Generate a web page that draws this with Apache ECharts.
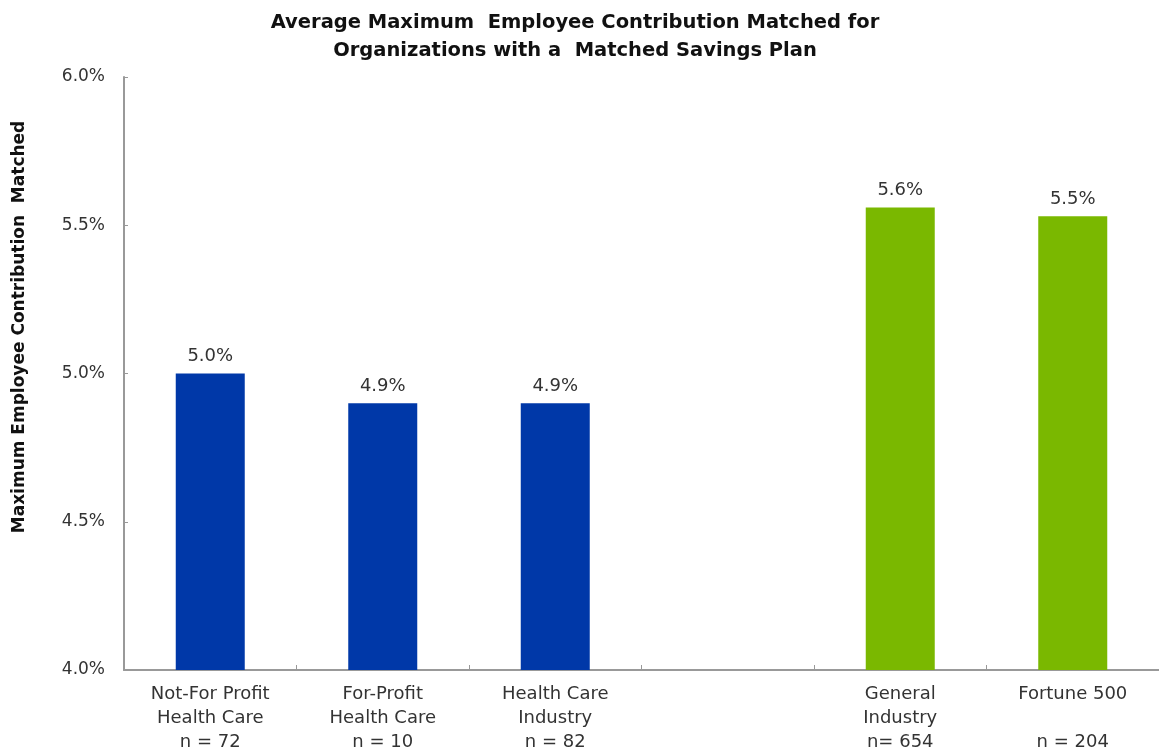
<!DOCTYPE html>
<html>
<head>
<meta charset="utf-8">
<script src="https://cdn.jsdelivr.net/npm/echarts@6/dist/echarts.min.js"></script>
<style>
  html, body { margin: 0; padding: 0; background: #fff; }
  #chart { width: 1159px; height: 754px; }
</style>
</head>
<body>
<div id="chart"></div>
<script>
// groups: health care (blue), a blank gap, then comparison groups (green)
const categories = [
  'Not-For Profit\nHealth Care\nn = 72',
  'For-Profit\nHealth Care\nn = 10',
  'Health Care\nIndustry\nn = 82',
  '',
  'General\nIndustry\nn= 654',
  'Fortune 500\n\nn = 204'
];
const values = [5.0, 4.9, 4.9, null, 5.56, 5.53];
const groups = ['hc', 'hc', 'hc', null, 'gen', 'gen'];
const colors = { hc: '#0038A8', gen: '#7AB800' };

const font = '"DejaVu Sans", "Liberation Sans", Arial, sans-serif';

const chart = echarts.init(document.getElementById('chart'));

const option = {
  animation: false,
  textStyle: { fontFamily: font },
  title: {
    text: 'Average Maximum  Employee Contribution Matched for\nOrganizations with a  Matched Savings Plan',
    left: 570,
    textAlign: 'center',
    top: 4,
    textStyle: { fontSize: 19.5, fontWeight: 'bold', color: '#111', lineHeight: 28, fontFamily: font }
  },
  grid: { left: 124, right: -4, top: 77, bottom: 84, containLabel: false },
  xAxis: {
    type: 'category',
    data: categories,
    axisLine: { lineStyle: { color: '#999', width: 2 } },
    axisTick: { show: true, inside: true, length: 5, lineStyle: { color: '#999' } },
    axisLabel: { color: '#333', fontSize: 18, lineHeight: 24, margin: 12, interval: 0 }
  },
  yAxis: {
    type: 'value',
    min: 4,
    max: 6,
    interval: 0.5,
    splitLine: { show: false },
    axisLine: { show: true, lineStyle: { color: '#999', width: 2 } },
    axisTick: { show: true, inside: true, length: 4, lineStyle: { color: '#999' } },
    axisLabel: {
      color: '#333', fontSize: 17, margin: 19,
      formatter: v => v.toFixed(1) + '%'
    }
  },
  graphic: [{
    type: 'text',
    x: 20,
    y: 327,
    rotation: Math.PI / 2,
    style: {
      text: 'Maximum Employee Contribution  Matched',
      font: 'bold 17px ' + font,
      fill: '#111',
      textAlign: 'center',
      textVerticalAlign: 'middle'
    }
  }],
  series: [{
    type: 'bar',
    barWidth: '40%',
    data: values.map((v, i) => v == null ? '-' : {
      value: v,
      itemStyle: { color: colors[groups[i]] }
    }),
    label: {
      show: true,
      position: 'top',
      distance: 8,
      color: '#333',
      fontSize: 18,
      formatter: p => p.value.toFixed(1) + '%'
    }
  }]
};

chart.setOption(option);
</script>
</body>
</html>
